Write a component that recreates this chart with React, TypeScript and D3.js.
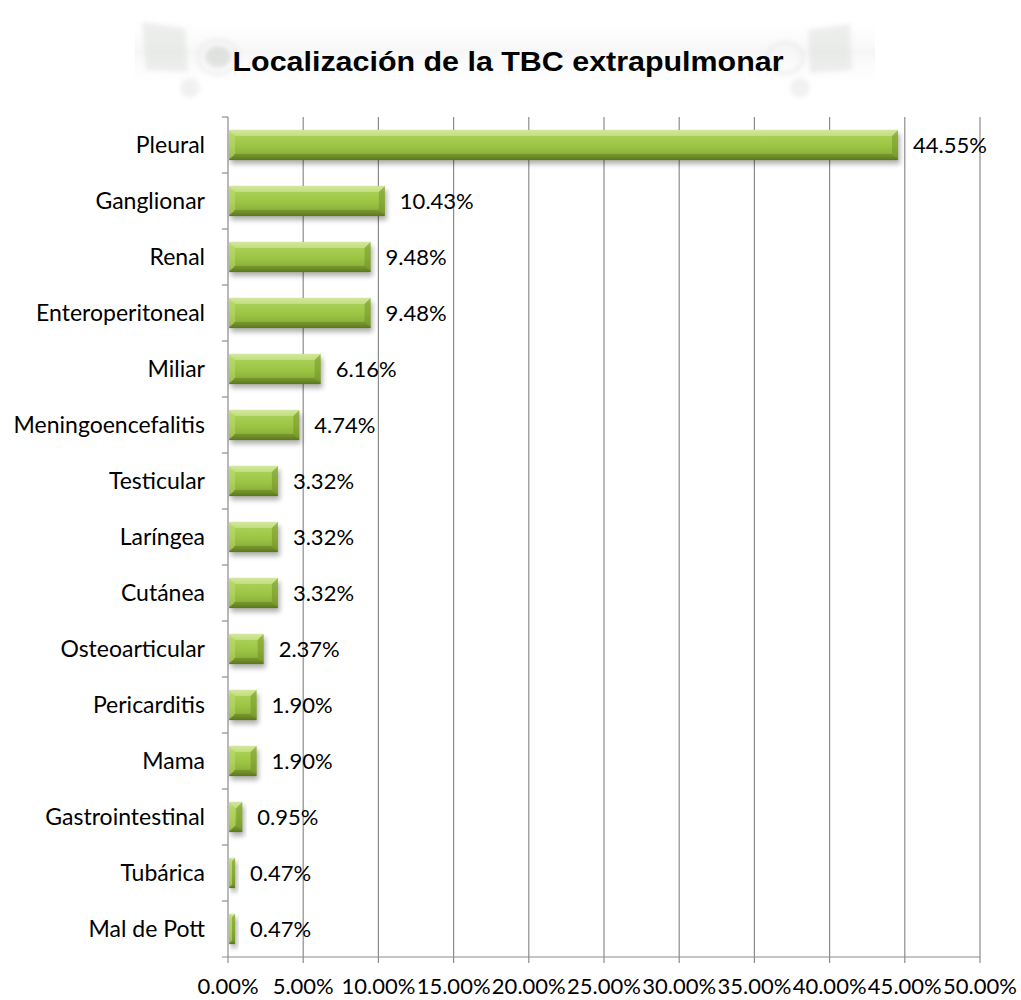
import React from "react";
import * as d3 from "d3";

const categories = [
  "Pleural", "Ganglionar", "Renal", "Enteroperitoneal", "Miliar", "Meningoencefalitis",
  "Testicular", "Laríngea", "Cutánea", "Osteoarticular", "Pericarditis", "Mama",
  "Gastrointestinal", "Tubárica", "Mal de Pott",
];
const values = [0.4455, 0.1043, 0.0948, 0.0948, 0.0616, 0.0474, 0.0332, 0.0332, 0.0332, 0.0237, 0.019, 0.019, 0.0095, 0.0047, 0.0047];
const ticks = [0, 0.05, 0.1, 0.15, 0.2, 0.25, 0.3, 0.35, 0.4, 0.45, 0.5];
const title = "Localización de la TBC extrapulmonar";

const W = 1021, H = 1000;
const FONT = "Lato, 'Open Sans', sans-serif";

export default function App() {
  const x = d3.scaleLinear().domain([0, 0.5]).range([228, 980]);
  const y = d3.scaleBand<string>().domain(categories).range([117, 957]).paddingInner(0.46).paddingOuter(0.23);
  const step = y.step();
  const fmt = (v: number) => (v * 100).toFixed(2) + "%";
  const bw = y.bandwidth();
  return (
    <svg width={W} height={H} style={{ position: "absolute", left: 0, top: 0, background: "#fff" }}>
      <defs>
        <linearGradient id="g" x1="0" y1="0" x2="0" y2="1">
          <stop offset="0" stopColor="#cfe596" />
          <stop offset="0.2" stopColor="#a9cf55" />
          <stop offset="0.55" stopColor="#9cc443" />
          <stop offset="0.85" stopColor="#89ad38" />
          <stop offset="1" stopColor="#5e7b20" />
        </linearGradient>
        <linearGradient id="hdr" x1="0" y1="0" x2="0" y2="1">
          <stop offset="0" stopColor="#ffffff" stopOpacity="0" />
          <stop offset="0.5" stopColor="#f3f4f3" stopOpacity="0.8" />
          <stop offset="1" stopColor="#ffffff" stopOpacity="0" />
        </linearGradient>
        <filter id="sh" x="-10%" y="-20%" width="130%" height="160%">
          <feGaussianBlur stdDeviation="2.5" />
        </filter>
        <filter id="blur" x="-20%" y="-20%" width="140%" height="140%">
          <feGaussianBlur stdDeviation="2" />
        </filter>
      </defs>
      {/* decorative faint header shapes */}
      <rect x={135} y={12} width={740} height={80} fill="url(#hdr)" />
      <g opacity={0.5} filter="url(#blur)">
        <polygon points="142,22 185,28 188,72 146,70" fill="#dcdfdc" />
        <ellipse cx="218" cy="57" rx="13" ry="11" fill="#c9cdc9" />
        <ellipse cx="218" cy="57" rx="20" ry="17" fill="none" stroke="#e3e5e3" strokeWidth="4" />
        <circle cx="190" cy="88" r="10" fill="#e2e4e2" />
        <polygon points="808,30 850,24 852,70 810,73" fill="#dcdfdc" />
        <ellipse cx="785" cy="58" rx="18" ry="15" fill="none" stroke="#e3e5e3" strokeWidth="4" />
        <circle cx="800" cy="88" r="10" fill="#e2e4e2" />
      </g>
      <text x={508} y={71} textAnchor="middle" fontFamily="'Liberation Sans', Arial, sans-serif" fontWeight="bold" fontSize={28} textLength={551} lengthAdjust="spacingAndGlyphs" fill="#000">{title}</text>
      {/* gridlines */}
      {ticks.map((t) => (
        <line key={"g" + t} x1={x(t)} x2={x(t)} y1={117} y2={963} stroke="#8c8c8c" strokeWidth={1.2} />
      ))}
      {/* axis */}
      <line x1={222} x2={980} y1={957} y2={957} stroke="#8c8c8c" strokeWidth={1.2} />
      {categories.map((c, i) => (
        <line key={"yt" + c} x1={222} x2={228} y1={117 + i * step} y2={117 + i * step} stroke="#8c8c8c" strokeWidth={1.2} />
      ))}
      {/* bars */}
      {categories.map((c, i) => {
        const x0 = x(0) + 1, x1 = x(values[i]);
        const y0 = y(c)!, y1 = y0 + bw;
        const w = x1 - x0;
        const b = Math.min(6, w / 2);
        return (
          <g key={c}>
            <rect x={x0 + 2} y={y0 + 4} width={w} height={bw} fill="#000" opacity={0.3} filter="url(#sh)" />
            <rect x={x0} y={y0} width={w} height={bw} fill="url(#g)" />
            <polygon points={`${x0},${y0} ${x1},${y0} ${x1 - b},${y0 + b} ${x0 + b},${y0 + b}`} fill="#d6eaa0" opacity={0.55} />
            <polygon points={`${x0},${y0} ${x0 + b},${y0 + b} ${x0 + b},${y1 - b} ${x0},${y1}`} fill="#c4e07a" opacity={0.45} />
            <polygon points={`${x1},${y0} ${x1},${y1} ${x1 - b},${y1 - b} ${x1 - b},${y0 + b}`} fill="#6c8a24" opacity={0.45} />
            <polygon points={`${x0},${y1} ${x1},${y1} ${x1 - b},${y1 - b} ${x0 + b},${y1 - b}`} fill="#56711a" opacity={0.45} />
          </g>
        );
      })}
      {/* category labels */}
      {categories.map((c) => (
        <text key={"l" + c} x={205} y={y(c)! + bw / 2 + 8} textAnchor="end" fontFamily={FONT} fontSize={23} fill="#000">{c}</text>
      ))}
      {/* value labels */}
      {categories.map((c, i) => (
        <text key={"v" + c} x={x(values[i]) + 15} y={y(c)! + bw / 2 + 8} fontFamily={FONT} fontSize={22} fill="#000">{fmt(values[i])}</text>
      ))}
      {/* x tick labels */}
      {ticks.map((t) => (
        <text key={"t" + t} x={x(t)} y={994} textAnchor="middle" fontFamily={FONT} fontSize={22} fill="#000">{fmt(t)}</text>
      ))}
    </svg>
  );
}
